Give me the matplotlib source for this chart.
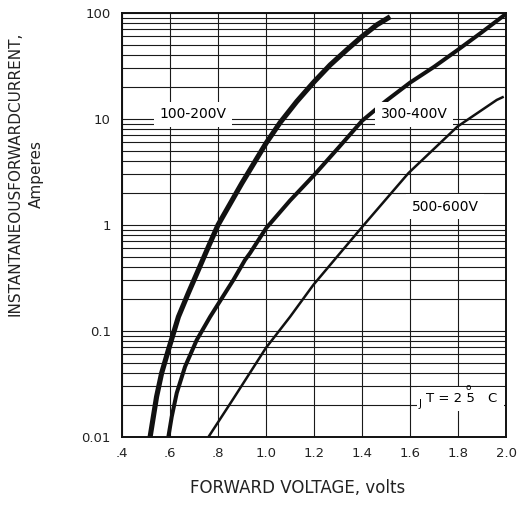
import numpy as np
import matplotlib
matplotlib.use('Agg')
import matplotlib.pyplot as plt
from matplotlib.ticker import FixedLocator, LogLocator, NullFormatter
from matplotlib.patches import Rectangle

# forward voltage (V) vs instantaneous forward current (A)
v_100_200 = [0.517, 0.544, 0.565, 0.593, 0.635, 0.676, 0.718, 0.76, 0.80, 0.899, 1.0,
             1.058, 1.128, 1.197, 1.267, 1.336, 1.399, 1.461, 1.517]
i_100_200 = [0.01, 0.024, 0.040, 0.066, 0.136, 0.227, 0.376, 0.624, 1.0, 2.47, 5.9,
             9.2, 14.6, 22, 32.3, 44.8, 59.7, 77, 92]

v_300_400 = [0.593, 0.607, 0.628, 0.6625, 0.711, 0.767, 0.829, 0.864, 0.9125, 0.933, 1.0,
             1.1, 1.2, 1.3, 1.4, 1.5, 1.6, 1.7, 1.8, 1.9, 2.0]
i_300_400 = [0.01, 0.0155, 0.026, 0.046, 0.082, 0.136, 0.227, 0.303, 0.468, 0.541, 0.93,
             1.7, 2.95, 5.3, 9.6, 14.8, 22, 31, 45, 66, 98]

v_500_600 = [0.76, 0.864, 0.999, 1.1, 1.197, 1.308, 1.399, 1.593, 1.797, 1.961, 1.99]
i_500_600 = [0.01, 0.023, 0.069, 0.136, 0.272, 0.541, 0.95, 3.08, 8.46, 15.1, 16.2]

x_ticks = [0.4, 0.6, 0.8, 1.0, 1.2, 1.4, 1.6, 1.8, 2.0]
x_labels = ['.4', '.6', '.8', '1.0', '1.2', '1.4', '1.6', '1.8', '2.0']
y_ticks = [0.01, 0.1, 1, 10, 100]
y_labels = ['0.01', '0.1', '1', '10', '100']

fig = plt.figure(figsize=(5.17, 5.15), dpi=100)
ax = fig.add_axes([0.236, 0.1515, 0.743, 0.8235])

ax.plot(v_100_200, i_100_200, color='#111111', lw=3.7, solid_capstyle='butt',
        solid_joinstyle='round', zorder=3)
ax.plot(v_300_400, i_300_400, color='#111111', lw=2.9, solid_capstyle='butt',
        solid_joinstyle='round', zorder=3)
ax.plot(v_500_600, i_500_600, color='#111111', lw=1.8, solid_capstyle='butt',
        solid_joinstyle='round', zorder=3)

ax.set_yscale('log')
ax.set_xlim(0.4, 2.0)
ax.set_ylim(0.01, 100)

ax.xaxis.set_major_locator(FixedLocator(x_ticks))
ax.set_xticklabels(x_labels)
ax.yaxis.set_major_locator(FixedLocator(y_ticks))
ax.set_yticklabels(y_labels)
ax.yaxis.set_minor_locator(LogLocator(base=10, subs=np.arange(2, 10)))
ax.yaxis.set_minor_formatter(NullFormatter())

ax.grid(which='both', color='#1a1a1a', lw=0.8, zorder=1)
ax.set_axisbelow(True)
ax.tick_params(which='both', length=0, labelsize=9.5, colors='#222222')
ax.tick_params(axis='x', pad=7)
ax.tick_params(axis='y', pad=8)
for s in ax.spines.values():
    s.set_linewidth(1.4)
    s.set_color('#111111')

# curve labels sit on white boxes that blank out the grid
box = dict(facecolor='white', edgecolor='none', pad=4)
ax.text(0.696, 11.1, '100-200V', fontsize=10, ha='center', va='center', bbox=box, zorder=5)
ax.text(1.617, 11.1, '300-400V', fontsize=10, ha='center', va='center', bbox=box, zorder=5)
ax.text(1.746, 1.48, '500-600V', fontsize=10, ha='center', va='center', bbox=box, zorder=5)

# junction temperature note
ax.add_patch(Rectangle((0.768, 0.062), 0.226, 0.056, transform=ax.transAxes,
                       facecolor='white', edgecolor='none', zorder=4))
ax.text(0.773, 0.078, 'J', fontsize=7.5, ha='left', va='center', transform=ax.transAxes, zorder=5)
ax.text(0.792, 0.090, 'T = 2 5', fontsize=9.5, ha='left', va='center', transform=ax.transAxes, zorder=5)
ax.text(0.901, 0.117, 'o', fontsize=6.5, ha='center', va='center', transform=ax.transAxes, zorder=5)
ax.text(0.952, 0.090, 'C', fontsize=9.5, ha='left', va='center', transform=ax.transAxes, zorder=5)

fig.text(0.575, 0.052, 'FORWARD VOLTAGE, volts', fontsize=12, ha='center', va='center', color='#222222')
fig.text(0.029, 0.662, 'INSTANTANEOUSFORWARDCURRENT,', fontsize=11, rotation=90,
         ha='center', va='center', color='#222222')
fig.text(0.070, 0.662, 'Amperes', fontsize=11, rotation=90, ha='center', va='center', color='#222222')

fig.savefig('out.png', dpi=100)
